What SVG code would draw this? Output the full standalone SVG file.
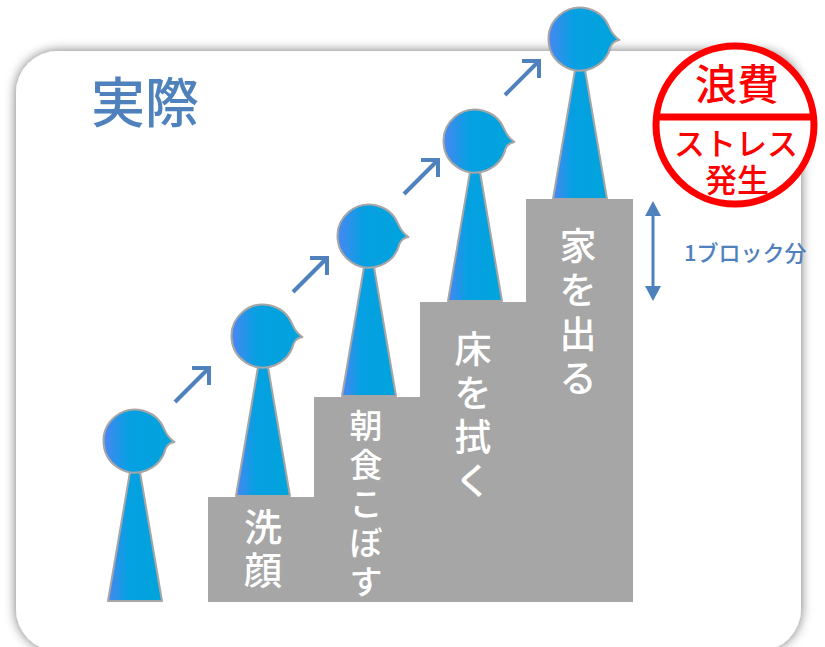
<svg xmlns="http://www.w3.org/2000/svg" width="825" height="647" viewBox="0 0 825 647">
  <style>
    .jp { font-family: "Noto Sans CJK JP", "Noto Sans", sans-serif; }
    .step { fill: #a6a6a6; }
    .steplabel { fill: #ffffff; text-anchor: middle; font-weight: 500; }
    .fig { fill: url(#skin); stroke: #a6a6a6; stroke-width: 2; stroke-linejoin: round; }
    .arrow { fill: none; stroke: #4f81bd; stroke-width: 4; marker-end: url(#open); }
    .stamp { fill: #ff0000; text-anchor: middle; font-weight: 500; }
  </style>
  <defs>
    <linearGradient id="skin" x1="0" y1="0" x2="1" y2="0">
      <stop offset="0" stop-color="#4a86f2"/>
      <stop offset="0.35" stop-color="#06a0e2"/>
      <stop offset="1" stop-color="#00a4dc"/>
    </linearGradient>
    <filter id="shadow" x="-5%" y="-5%" width="110%" height="110%">
      <feGaussianBlur in="SourceAlpha" stdDeviation="6"/>
      <feComponentTransfer><feFuncA type="linear" slope="0.55"/></feComponentTransfer>
      <feMerge><feMergeNode/><feMergeNode in="SourceGraphic"/></feMerge>
    </filter>
    <marker id="open" markerUnits="userSpaceOnUse" viewBox="-16 -16 20 32" refX="0" refY="0" markerWidth="20" markerHeight="32" orient="auto" overflow="visible">
      <path d="M-12,-12 L0,0 L-12,12" fill="none" stroke="#4f81bd" stroke-width="4"/>
    </marker>
    <!-- one person: body + head with a small beak, origin at the feet -->
    <g id="person">
      <polygon class="fig" points="-5,-129 5,-129 27,0 -27,0"/>
      <path class="fig" d="M 29.2,-171.8 A 31.5 31.5 0 1 0 30.6,-152.4 Q 33,-158 39.5,-159 Q 33,-163 29.2,-171.8 Z"/>
    </g>
  </defs>

  <!-- card -->
  <rect id="card" x="16" y="51" width="785" height="600" rx="42" ry="42" fill="#ffffff" filter="url(#shadow)"/>

  <text id="title" class="jp" x="145" y="123" font-size="54" font-weight="500" fill="#4f81bd" text-anchor="middle">実際</text>

  <!-- staircase; labels stacked one character per line -->
  <g id="step1">
    <rect class="step" x="208" y="497" width="106" height="105"/>
    <text class="jp steplabel" font-size="38"><tspan x="263" y="541">洗</tspan><tspan x="263" y="584">顔</tspan></text>
  </g>
  <g id="step2">
    <rect class="step" x="314" y="397" width="106" height="205"/>
    <text class="jp steplabel" font-size="33"><tspan x="366" y="438">朝</tspan><tspan x="366" y="477">食</tspan><tspan x="366" y="516">こ</tspan><tspan x="366" y="555">ぼ</tspan><tspan x="366" y="594">す</tspan></text>
  </g>
  <g id="step3">
    <rect class="step" x="420" y="302" width="106" height="300"/>
    <text class="jp steplabel" font-size="37"><tspan x="473" y="363">床</tspan><tspan x="473" y="407">を</tspan><tspan x="473" y="451">拭</tspan><tspan x="473" y="495">く</tspan></text>
  </g>
  <g id="step4">
    <rect class="step" x="526" y="199" width="107" height="403"/>
    <text class="jp steplabel" font-size="37"><tspan x="578" y="260">家</tspan><tspan x="578" y="304">を</tspan><tspan x="578" y="348">出</tspan><tspan x="578" y="392">る</tspan></text>
  </g>

  <!-- people -->
  <g id="person1"><use href="#person" x="135" y="601"/></g>
  <g id="person2"><use href="#person" x="263" y="496"/></g>
  <g id="person3"><use href="#person" x="369" y="396"/></g>
  <g id="person4"><use href="#person" x="475" y="301"/></g>
  <g id="person5"><use href="#person" x="580" y="199"/></g>

  <!-- connectors -->
  <g id="connectors">
    <path class="arrow" d="M175,402 L209,368"/>
    <path class="arrow" d="M293,292 L327,258"/>
    <path class="arrow" d="M404,194 L438,160"/>
    <path class="arrow" d="M505,95 L539,61"/>
    <g id="block-span" fill="#4f81bd">
      <line x1="653" y1="212" x2="653" y2="290" stroke="#4f81bd" stroke-width="3"/>
      <polygon points="653,201 645,216 661,216"/>
      <polygon points="653,301 645,286 661,286"/>
    </g>
  </g>

  <text id="block-label" class="jp" x="684" y="261" font-size="22" font-weight="500" fill="#4f81bd">1ブロック分</text>

  <!-- stamp -->
  <g id="stamp">
    <circle cx="735" cy="125" r="79" fill="#ffffff" stroke="#ff0000" stroke-width="7"/>
    <line x1="656" y1="117" x2="814" y2="117" stroke="#ff0000" stroke-width="7"/>
    <text class="jp stamp" x="737" y="100" font-size="42">浪費</text>
    <text class="jp stamp" x="736" y="155" font-size="31">ストレス</text>
    <text class="jp stamp" x="737" y="192" font-size="32">発生</text>
  </g>
</svg>
